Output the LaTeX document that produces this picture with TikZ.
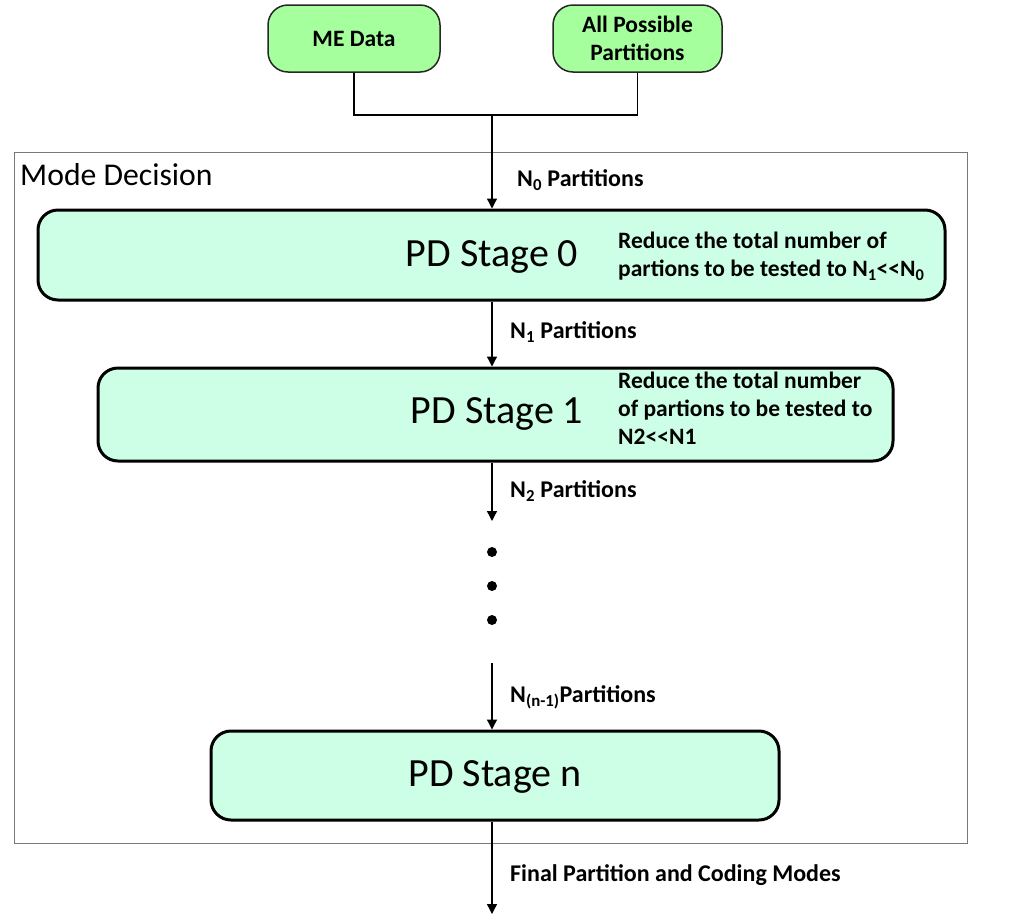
\documentclass[tikz,border=0pt]{standalone}
\usepackage{fontspec}
\setmainfont{Carlito}
\usetikzlibrary{arrows.meta,calc}
\definecolor{topgreen}{RGB}{166,255,157}
\definecolor{mint}{RGB}{204,255,229}
\definecolor{framegray}{RGB}{120,120,120}
\newcommand{\llt}{<{}<}
\tikzset{
  inbox/.style={draw=black!85,line width=1.5pt,fill=topgreen,rounded corners=20pt,
    minimum width=172pt,minimum height=67pt,align=center,inner sep=0pt,
    font=\fontsize{23.5}{28}\selectfont\bfseries},
  stagebox/.style={draw=black,line width=3pt,fill=mint,rounded corners=20pt,inner sep=0pt},
  stagetext/.style={font=\fontsize{40}{42}\selectfont,inner sep=0pt},
  sidetext/.style={font=\fontsize{23.5}{28}\selectfont\bfseries,align=left,anchor=north west,inner sep=0pt},
  lbl/.style={font=\fontsize{24}{26}\selectfont\bfseries,anchor=west,inner sep=0pt},
  conn/.style={line width=1.3pt},
  arr/.style={line width=1.3pt,-{Triangle[width=10pt,length=10pt]}},
  dotn/.style={circle,fill=black,minimum size=10pt,inner sep=0pt},
}
\begin{document}
\begin{tikzpicture}[x=1pt,y=-1pt]
\useasboundingbox (0,0) rectangle (1022,919);
% outer frame
\draw[framegray,line width=1pt] (14,152) rectangle (967,843);
\node[font=\fontsize{31.7}{33}\selectfont,anchor=west,inner sep=0pt] (md) at (20,175) {Mode Decision};
\coordinate (ax) at (492,0);
% top inputs
\node[inbox] (me) at (354,38.5) {ME Data};
\node[inbox,minimum width=169pt] (app) at (637.5,38.5) {All Possible\\Partitions};
\coordinate (j) at (492,115);
\draw[conn] (me.south) |- (j) -| (app.south);
% stages
\node[stagebox,minimum width=907pt,minimum height=90pt] (s0) at (491.5,255) {};
\node[stagetext] (t0) at (492,257) {PD Stage 0};
\node[sidetext] (r0) at (618,232) {Reduce the total number of\\partions to be tested to N\textsubscript{1}\llt N\textsubscript{0}};
\node[stagebox,minimum width=795pt,minimum height=93pt] (s1) at (495.5,414.5) {};
\node[stagetext] (t1) at (497,414) {PD Stage 1};
\node[sidetext] (r1) at (618,372) {Reduce the total number\\of partions to be tested to\\N2\llt N1};
\node[stagebox,minimum width=568pt,minimum height=89pt] (sn) at (495,775.5) {};
\node[stagetext] (tn) at (495,777) {PD Stage n};
% arrows
\draw[arr] (j) -- (s0.north -| ax);
\node[lbl] (l0) at (517,180) {N\textsubscript{0} Partitions};
\draw[arr] (s0.south -| ax) -- (s1.north -| ax);
\node[lbl] (l1) at (510,332) {N\textsubscript{1} Partitions};
\coordinate (e2) at (492,521);
\draw[arr] (s1.south -| ax) -- (e2);
\node[lbl] (l2) at (510,491) {N\textsubscript{2} Partitions};
\node[dotn] (d1) at (492,552) {};
\node[dotn] (d2) at (492,586) {};
\node[dotn] (d3) at (492,620) {};
\coordinate (bn) at (492,663);
\draw[arr] (bn) -- (sn.north -| ax);
\node[lbl] (ln) at (510,697) {N\textsubscript{(n-1)}Partitions};
\coordinate (fe) at (492,914);
\draw[arr] (sn.south -| ax) -- (fe);
\node[lbl] (lf) at (510,875) {Final Partition and Coding Modes};
\end{tikzpicture}
\end{document}
